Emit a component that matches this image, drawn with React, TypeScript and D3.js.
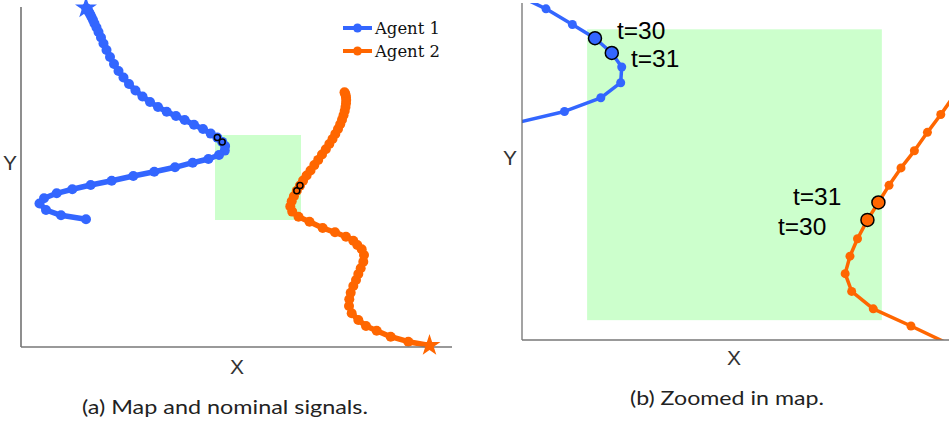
import React from "react";
import * as d3 from "d3";

// Agent 1 trajectory (X, Y), star at first point
const agent1X = [65, 65.3, 65.8, 66.5, 67.3, 68.2, 69.3, 70.5, 72, 73.5, 75.5, 77.5, 80, 82.5, 85.5, 89, 93, 97.5, 102.5, 108, 114.5, 121.5, 129, 137, 145.7, 155, 163.7, 173, 182, 189.7, 196.3, 201.2, 204.1, 203.8, 198, 187.4, 171.7, 154, 133.3, 112.3, 90.7, 69.7, 51.3, 35.7, 23, 18.5, 25, 40, 65];
const agent1Y = [339, 338.7, 338.2, 337.2, 336, 334.5, 332.5, 330, 327, 323.5, 319.5, 315, 309.5, 303.5, 297, 290, 283, 276, 269.5, 263, 256.5, 250.5, 245, 240, 235.3, 231, 227, 222.3, 218, 213.4, 209.4, 205.1, 201, 196.4, 192, 188, 184.3, 179.7, 175.3, 171, 166.3, 162, 157.7, 153.7, 148.7, 143.5, 137, 131.7, 127.7];
// Agent 2 trajectory (X, Y), star at first point
const agent2X = [408.5, 387.3, 369.7, 355.7, 345, 337.3, 330.7, 328, 328.3, 329.7, 332.3, 335, 337.3, 339.7, 342.3, 343, 340.7, 336.3, 332.3, 325, 314, 301.7, 288.5, 277.5, 271.2, 269.3, 270.7, 272.9, 275.8, 279, 282.1, 285.6, 289.5, 293.3, 297.2, 301, 304.8, 308.3, 311.5, 314.3, 317, 319.2, 321, 322.5, 323.7, 324.5, 325, 325.2, 325, 324.6, 324, 323.5];
const agent2Y = [1.5, 5.3, 10.3, 16.3, 21, 27, 33.7, 41, 47.7, 54.3, 61, 67, 73, 78.7, 85.3, 92, 97.7, 102, 106.3, 110.3, 114.7, 119, 125.3, 130.3, 135.4, 140.6, 145.7, 150.8, 156.3, 161.4, 166.4, 171.5, 176.5, 181.9, 187.1, 192.5, 197.8, 203, 208, 213, 218, 222.7, 227.3, 231.7, 236, 240, 243.7, 247, 249.8, 252, 253.7, 254.7];

const agent1Highlight = [30, 31];
const agent2Highlight = [28, 29];
const highlightLabels = ["t=30", "t=31"];

// zoom region (X0, X1, Y0, Y1)
const boxX = [194, 280];
const boxY = [127, 212];

const legendNames = ["Agent 1", "Agent 2"];
const colors = ["#3366ff", "#ff6600"];
const captions = ["(a) Map and nominal signals.", "(b) Zoomed in map."];

const ptsA = agent1X.map((x, i) => [x, agent1Y[i]] as [number, number]);
const ptsB = agent2X.map((x, i) => [x, agent2Y[i]] as [number, number]);

export default function App() {
  // left panel scales
  const lx = d3.scaleLinear().domain([0, 431]).range([21, 452]);
  const ly = d3.scaleLinear().domain([0, 340]).range([347, 7]);
  // right panel scales
  const rx = d3.scaleLinear().domain([175, 299.6]).range([522, 949]);
  const ry = d3.scaleLinear().domain([121.2, 219.7]).range([340, 3]);

  const lineL = d3.line<[number, number]>().x(d => lx(d[0])).y(d => ly(d[1]));
  const lineR = d3.line<[number, number]>().x(d => rx(d[0])).y(d => ry(d[1]));
  const star = d3.symbol().type(d3.symbolStar).size(150)();

  const trajs = [
    { pts: ptsA, color: colors[0], hl: agent1Highlight },
    { pts: ptsB, color: colors[1], hl: agent2Highlight },
  ];

  const sans = "'Liberation Sans', Arial, sans-serif";

  return (
    <svg width={950} height={421} style={{ display: "block", position: "absolute", left: 0, top: 0 }}>
      <defs>
        <clipPath id="rclip">
          <rect x={rx(175)} y={ry(219.7)} width={rx(299.6) - rx(175)} height={ry(121.2) - ry(219.7)} />
        </clipPath>
      </defs>
      <rect width={950} height={421} fill="#fff" />

      {/* LEFT PANEL */}
      <rect x={lx(boxX[0])} y={ly(boxY[1])} width={lx(boxX[1]) - lx(boxX[0])} height={ly(boxY[0]) - ly(boxY[1])} fill="#ccffcc" />
      {trajs.map((t, k) => (
        <g key={"l" + k}>
          <path d={lineL(t.pts) || ""} fill="none" stroke={t.color} strokeWidth={5.5} strokeLinejoin="round" />
          {t.pts.slice(1).map((p, i) => (
            <circle key={i} cx={lx(p[0])} cy={ly(p[1])} r={5} fill={t.color} />
          ))}
          {t.hl.map((idx, i) => (
            <circle key={"h" + i} cx={lx(t.pts[idx][0])} cy={ly(t.pts[idx][1])} r={3} fill={t.color} stroke="#000" strokeWidth={1.5} />
          ))}
        </g>
      ))}
      <line x1={lx(0)} x2={lx(0)} y1={ly(340)} y2={ly(0)} stroke="#444" strokeWidth={1.2} />
      <line x1={lx(0)} x2={lx(431)} y1={ly(0)} y2={ly(0)} stroke="#777" strokeWidth={1.5} />
      {trajs.map((t, k) => (
        <path key={"s" + k} d={star || ""} transform={`translate(${lx(t.pts[0][0])},${ly(t.pts[0][1])})`} fill={t.color} />
      ))}
      {/* legend */}
      {legendNames.map((n, i) => (
        <g key={n}>
          <line x1={343} x2={372} y1={28 + i * 23} y2={28 + i * 23} stroke={colors[i]} strokeWidth={4} />
          <circle cx={357.5} cy={28 + i * 23} r={4.5} fill={colors[i]} />
          <text x={375} y={33.5 + i * 23} fontFamily="'DejaVu Serif', 'Liberation Serif', serif" fontSize={16} fill="#111" textLength={65} lengthAdjust="spacingAndGlyphs">{n}</text>
        </g>
      ))}
      <text x={10} y={170} fontFamily={sans} fontSize={21} fill="#333" textAnchor="middle">Y</text>
      <text x={237} y={374} fontFamily={sans} fontSize={21} fill="#333" textAnchor="middle">X</text>

      {/* RIGHT PANEL */}
      <rect x={rx(boxX[0])} y={ry(boxY[1])} width={rx(boxX[1]) - rx(boxX[0])} height={ry(boxY[0]) - ry(boxY[1])} fill="#ccffcc" />
      <g clipPath="url(#rclip)">
        {trajs.map((t, k) => (
          <g key={"r" + k}>
            <path d={lineR(t.pts) || ""} fill="none" stroke={t.color} strokeWidth={3.5} strokeLinejoin="round" />
            {t.pts.map((p, i) => (
              <circle key={i} cx={rx(p[0])} cy={ry(p[1])} r={4.5} fill={t.color} />
            ))}
            {t.hl.map((idx, i) => (
              <circle key={"h" + i} cx={rx(t.pts[idx][0])} cy={ry(t.pts[idx][1])} r={6.5} fill={t.color} stroke="#000" strokeWidth={1.5} />
            ))}
          </g>
        ))}
      </g>
      <line x1={rx(175)} x2={rx(175)} y1={ry(219.7)} y2={ry(121.2)} stroke="#666" strokeWidth={1.2} />
      <line x1={rx(175)} x2={rx(299.6)} y1={ry(121.2)} y2={ry(121.2)} stroke="#777" strokeWidth={1.5} />
      {/* t labels */}
      <text x={617} y={38.5} fontFamily={sans} fontSize={24.5} fill="#000">{highlightLabels[0]}</text>
      <text x={631} y={66.5} fontFamily={sans} fontSize={24.5} fill="#000">{highlightLabels[1]}</text>
      <text x={793} y={205} fontFamily={sans} fontSize={24.5} fill="#000">{highlightLabels[1]}</text>
      <text x={778} y={235} fontFamily={sans} fontSize={24.5} fill="#000">{highlightLabels[0]}</text>
      <text x={510} y={165} fontFamily={sans} fontSize={21} fill="#333" textAnchor="middle">Y</text>
      <text x={734} y={365} fontFamily={sans} fontSize={21} fill="#333" textAnchor="middle">X</text>

      {/* captions */}
      <text x={225} y={414} fontFamily="Lato, 'Open Sans', sans-serif" fontSize={19} fill="#222" textAnchor="middle" textLength={286} lengthAdjust="spacingAndGlyphs">{captions[0]}</text>
      <text x={727} y={405} fontFamily="Lato, 'Open Sans', sans-serif" fontSize={19} fill="#222" textAnchor="middle" textLength={194} lengthAdjust="spacingAndGlyphs">{captions[1]}</text>
    </svg>
  );
}
